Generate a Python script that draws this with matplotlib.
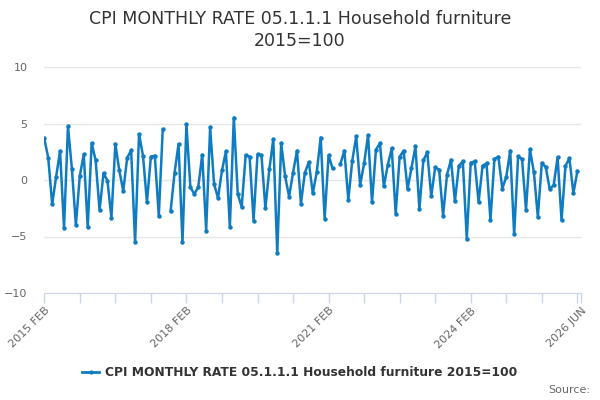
import numpy as np
import matplotlib
matplotlib.use('Agg')
import matplotlib.pyplot as plt
from matplotlib.lines import Line2D

month_names = ['JAN', 'FEB', 'MAR', 'APR', 'MAY', 'JUN', 'JUL', 'AUG', 'SEP', 'OCT', 'NOV', 'DEC']
start_year, start_month = 2015, 2  # first observation: 2015 FEB

# monthly rate, % (2015 FEB .. 2026 JUN), nan = no value
rate = [3.68, 1.97, -2.15, 0.29, 2.56, -4.26, 4.74, 0.97, -3.97, 0.38, 2.26, -4.18,
        3.26, 1.76, -2.68, 0.59, -0.05, -3.35, 3.18, 0.85, -0.97, 1.97, 2.62, -5.53,
        4.06, 2.15, -1.97, 2.06, 2.15, -3.18, 4.47, np.nan, -2.76, 0.65, 3.18, -5.53,
        4.94, -0.65, -1.24, -0.62, 2.24, -4.47, 4.65, -0.35, -1.59, 0.85, 2.53, -4.18,
        5.53, -1.24, -2.38, 2.18, 2.06, -3.59, 2.26, 2.21, -2.50, 0.94, 3.62, -6.47,
        3.26, 0.32, -1.47, 0.65, 2.59, -2.09, 0.65, 1.59, -1.18, 0.68, 3.76, -3.41,
        2.18, 1.03, np.nan, 1.44, 2.59, -1.76, 1.71, 3.85, -0.44, 1.47, 3.97, -1.97,
        2.68, 3.24, -0.56, 1.35, 2.79, -3.00, 2.06, 2.59, -0.79, 1.06, 2.97, -2.56,
        1.74, 2.44, -1.44, 1.12, 0.91, -3.15, 0.47, 1.79, -1.88, 1.26, 1.65, -5.18,
        1.53, 1.65, -1.97, 1.26, 1.47, -3.56, 1.85, 2.06, -0.76, 0.26, 2.59, -4.82,
        2.09, 1.85, -2.65, 2.71, 0.68, -3.26, 1.50, 1.15, -0.79, -0.47, 2.00, -3.56,
        1.26, 1.91, -1.18, 0.76, np.nan]

label_ticks = [0, 36, 72, 108, 136]
yticks = [-10, -5, 0, 5, 10]
title = 'CPI MONTHLY RATE 05.1.1.1 Household furniture\n2015=100'
series_name = 'CPI MONTHLY RATE 05.1.1.1 Household furniture 2015=100'


def month_label(i):
    m = start_month - 1 + i
    return '{} {}'.format(start_year + m // 12, month_names[m % 12])


blue = '#0f7cc1'
grey = '#666666'
axis_col = '#ccd6eb'

x = np.arange(len(rate))
fig = plt.figure(figsize = (6, 4), dpi = 100)
ax = fig.add_axes([0.0738, 0.2675, 0.895, 0.565])

ax.plot(x, rate, color = blue, lw = 1.8, marker = 'o', ms = 3.2, mew = 0)

ax.set_xlim(0, len(rate) - 1)
ax.set_ylim(-10, 10)
ax.set_yticks(yticks)
ax.grid(axis = 'y', color = '#e6e6e6', lw = 1)
ax.set_axisbelow(True)

major = list(range(0, len(rate) - 1, 9)) + [len(rate) - 1]
ax.set_xticks(major)
ax.set_xticklabels([month_label(t) if t in label_ticks else '' for t in major],
                   rotation = 45, ha = 'right', rotation_mode = 'anchor')

for s in ['top', 'right', 'left']:
    ax.spines[s].set_visible(False)
ax.spines['bottom'].set_color(axis_col)
ax.tick_params(axis = 'x', colors = axis_col, length = 7, width = 1, labelcolor = grey,
               labelsize = 8, pad = 2)
ax.tick_params(axis = 'y', length = 0, labelcolor = grey, labelsize = 8, pad = 12)

fig.text(0.5, 0.975, title, ha = 'center', va = 'top', fontsize = 12.5, color = '#333333',
         linespacing = 1.25)

h = Line2D([], [], color = blue, lw = 2, marker = 'o', ms = 3, mew = 0)
fig.legend([h], [series_name], loc = 'center', bbox_to_anchor = (0.5, 0.068), frameon = False,
           prop = dict(weight = 'bold', size = 8.8), handlelength = 1.4, handletextpad = 0.5,
           labelcolor = '#333333')
fig.text(0.983, 0.025, 'Source:', ha = 'right', va = 'center', fontsize = 8, color = grey)

plt.savefig('out.png', dpi = 100)
plt.close()
